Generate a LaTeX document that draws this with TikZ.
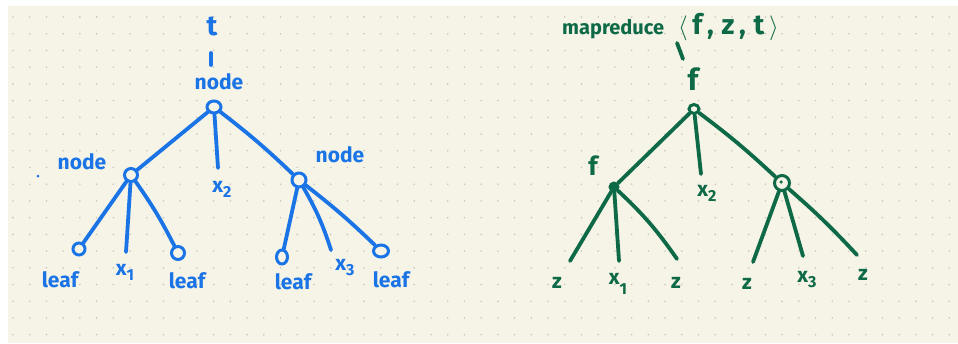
\documentclass[tikz,border=0pt]{standalone}
\usepackage{fontspec}
\setmainfont{Fira Sans}
\setsansfont{Fira Sans}
\usetikzlibrary{shapes.geometric}

\definecolor{paper}{HTML}{F6F3E7}
\definecolor{griddot}{HTML}{C9C6BC}
\definecolor{inkblue}{HTML}{1A74E6}
\definecolor{inkgreen}{HTML}{0E6A46}

\tikzset{
  bluepen/.style={draw=inkblue, line width=3.8pt, line cap=round},
  greenpen/.style={draw=inkgreen, line width=3.8pt, line cap=round},
  bluejoint/.style={ellipse, draw=inkblue, line width=3pt, fill=paper, inner sep=0pt},
  greenjoint/.style={ellipse, draw=inkgreen, line width=3pt, fill=paper, inner sep=0pt},
  bluetext/.style={text=inkblue, inner sep=0pt, font=\bfseries\fontsize{21}{24}\selectfont},
  greentext/.style={text=inkgreen, inner sep=0pt, font=\bfseries\fontsize{21}{24}\selectfont},
}
\newcommand{\subx}[1]{x\raisebox{-0.45ex}{\fontsize{16}{18}\selectfont #1}}

\begin{document}
\begin{tikzpicture}[x=1pt,y=-1pt]
  % sheet and dotted grid
  \useasboundingbox (0,0) rectangle (958,343);
  \fill[white] (0,0) rectangle (958,343);
  \fill[paper] (8,6) rectangle (958,343);
  \foreach \i in {0,...,56} {
    \foreach \j in {0,...,19} {
      \fill[griddot] ({13+16.72*\i},{17+16.72*\j}) circle (0.9pt);
    }
  }

  % ---------------- left tree (blue) ----------------
  \node[bluetext, font=\bfseries\fontsize{28}{30}\selectfont] (t) at (212,26) {t};
  \coordinate (ttopA) at (211,53);
  \coordinate (ttopB) at (211,65);
  \draw[bluepen] (ttopA) -- (ttopB);
  \node[bluetext] (rootlbl) at (219,82) {node};

  \node[bluejoint, minimum width=14pt, minimum height=12pt] (broot) at (214,107) {};
  \node[bluejoint, minimum width=13pt, minimum height=13pt] (bl) at (131,175) {};
  \node[bluejoint, minimum width=14pt, minimum height=14pt] (br) at (299,180) {};
  \node[bluetext] (bllbl) at (82,162) {node};
  \node[circle, fill=inkblue, inner sep=0pt, minimum size=3pt] (stray) at (38,176) {};
  \node[bluetext] (brlbl) at (340,155) {node};

  \coordinate (bx2) at (218,168);
  \node[bluetext] (bx2lbl) at (222,189) {\subx{2}};

  \draw[bluepen] (broot) -- (bl);
  \draw[bluepen] (broot) -- (bx2);
  \draw[bluepen] (broot) to[bend left=3] (br);

  % children of the left inner node
  \node[bluejoint, minimum width=12pt, minimum height=12pt] (bleafA) at (79,249) {};
  \coordinate (bx1) at (126,252);
  \node[bluejoint, minimum width=13pt, minimum height=13pt] (bleafB) at (178,253) {};
  \draw[bluepen] (bl) -- (bleafA);
  \draw[bluepen] (bl) -- (bx1);
  \draw[bluepen] (bl) to[bend left=4] (bleafB);
  \node[bluetext] (bleafAlbl) at (60,280) {leaf};
  \node[bluetext] (bx1lbl) at (125,272) {\subx{1}};
  \node[bluetext] (bleafBlbl) at (187,281) {leaf};

  % children of the right inner node
  \node[bluejoint, minimum width=11pt, minimum height=14pt] (bleafC) at (282,257) {};
  \coordinate (bx3) at (331,250);
  \node[bluejoint, minimum width=15pt, minimum height=12pt] (bleafD) at (381,251) {};
  \draw[bluepen] (br) -- (bleafC);
  \draw[bluepen] (br) to[bend left=6] (bx3);
  \draw[bluepen] (br) to[bend left=3] (bleafD);
  \node[bluetext] (bleafClbl) at (293,282) {leaf};
  \node[bluetext] (bx3lbl) at (345,268) {\subx{3}};
  \node[bluetext] (bleafDlbl) at (391,280) {leaf};

  % ---------------- right tree (green) ----------------
  \node[greentext, anchor=west] (mrlbl) at (562,27)
    {\fontsize{20}{22}\selectfont mapreduce\hspace{14pt}\fontsize{28}{30}\selectfont$\langle$\,f\,,\;z\,,\;t\,$\rangle$};
  \coordinate (gtopA) at (677,43);
  \coordinate (gtopB) at (683,59);
  \draw[greenpen] (gtopA) -- (gtopB);
  \node[greentext, font=\bfseries\fontsize{30}{32}\selectfont] (grootlbl) at (693,79) {f};

  \node[greenjoint, minimum width=10pt, minimum height=9pt] (groot) at (694,109) {};
  \node[circle, fill=inkgreen, draw=inkgreen, line width=1pt, inner sep=0pt, minimum size=10pt] (gl) at (614,187) {};
  \node[greenjoint, minimum width=15pt, minimum height=15pt] (gr) at (782,183) {};
  \node[circle, fill=inkgreen, inner sep=0pt, minimum size=3.5pt] (grdot) at (781,182) {};
  \node[greentext, font=\bfseries\fontsize{26}{28}\selectfont] (gllbl) at (593,166) {f};

  \coordinate (gx2) at (701,174);
  \node[greentext] (gx2lbl) at (707,193) {\subx{2}};

  \draw[greenpen] (groot) -- (gl);
  \draw[greenpen] (groot) -- (gx2);
  \draw[greenpen] (groot) to[bend left=3] (gr);

  % children of the left inner node
  \coordinate (gzA) at (570,261);
  \coordinate (gx1) at (619,261);
  \coordinate (gzB) at (677,259);
  \draw[greenpen] (gl) -- (gzA);
  \draw[greenpen] (gl) -- (gx1);
  \draw[greenpen] (gl) to[bend left=6] (gzB);
  \node[greentext] (gzAlbl) at (557,283) {z};
  \node[greentext] (gx1lbl) at (618,284) {x\raisebox{-0.9ex}{\fontsize{16}{18}\selectfont 1}};
  \node[greentext] (gzBlbl) at (676,283) {z};

  % children of the right inner node
  \coordinate (gzC) at (753,262);
  \coordinate (gx3) at (803,256);
  \coordinate (gzD) at (857,255);
  \draw[greenpen] (gr) -- (gzC);
  \draw[greenpen] (gr) -- (gx3);
  \draw[greenpen] (gr) to[bend left=3] (gzD);
  \node[greentext] (gzClbl) at (747,284) {z};
  \node[greentext] (gx3lbl) at (807,280) {\subx{3}};
  \node[greentext] (gzDlbl) at (863,275) {z};
\end{tikzpicture}
\end{document}
